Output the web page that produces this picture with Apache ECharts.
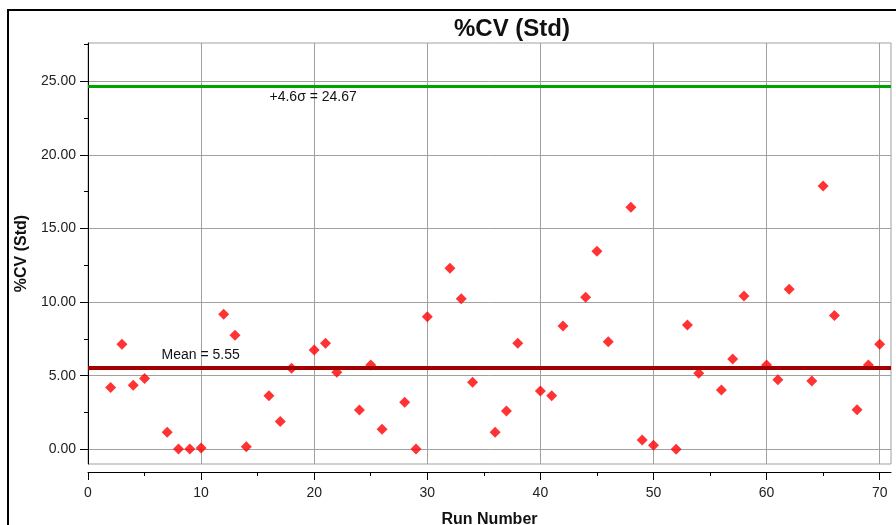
<!DOCTYPE html>
<html>
<head>
<meta charset="utf-8">
<script src="https://cdn.jsdelivr.net/npm/echarts@6/dist/echarts.min.js"></script>
<style>html,body{margin:0;padding:0;background:#fff;}#c{width:896px;height:525px;}</style>
</head>
<body>
<div id="c"></div>
<script>
const runs = [2,3,4,5,7,8,9,10,12,13,14,16,17,18,20,21,22,24,25,26,28,29,30,32,33,34,36,37,38,40,41,42,44,45,46,48,49,50,52,53,54,56,57,58,60,61,62,64,65,66,68,69,70];
const cvValues = [4.19,7.13,4.35,4.80,1.15,0.02,0.02,0.09,9.17,7.74,0.18,3.64,1.88,5.51,6.75,7.20,5.23,2.67,5.73,1.36,3.19,0.02,9.01,12.30,10.23,4.55,1.15,2.60,7.20,3.96,3.64,8.38,10.33,13.45,7.31,16.44,0.63,0.27,0.00,8.44,5.16,4.03,6.13,10.41,5.73,4.73,10.87,4.64,17.89,9.08,2.69,5.73,7.13];
const xTickValues = [0,10,20,30,40,50,60,70];
const xMinorTickValues = [5,15,25,35,45,55,65];
const yTickValues = [0,5,10,15,20,25];
const yMinorTickValues = [2.5,7.5,12.5,17.5,22.5,27.5];
const refLineValues = [24.67, 5.55];
const refLineLabels = ['+4.6σ = 24.67', 'Mean = 5.55'];

const FONT = 'Liberation Sans, Arial, sans-serif';
const chart = echarts.init(document.getElementById('c'), null, {renderer: 'canvas'});
const points = runs.map((r, i) => [r, cvValues[i]]);

const option = {
  animation: false,
  backgroundColor: '#fff',
  graphic: [
    {type: 'rect', shape: {x: 8, y: 10, width: 1000, height: 1000}, style: {fill: 'none', stroke: '#000', lineWidth: 2}, z: 100},
    {type: 'text', x: 512, y: 29, style: {text: '%CV (Std)', font: 'bold 24px ' + FONT, fill: '#111', align: 'center', verticalAlign: 'middle'}}
  ],
  grid: {left: 88, top: 43, right: 5, bottom: 61, show: true, borderColor: '#a0a0a0', borderWidth: 1, outerBoundsMode: 'none', containLabel: false},
  xAxis: [
    {
      type: 'value', min: 0, max: 71, position: 'bottom', offset: 8,
      name: 'Run Number', nameLocation: 'middle', nameGap: 40,
      nameTextStyle: {fontFamily: FONT, fontWeight: 'bold', fontSize: 16, color: '#111'},
      axisLine: {show: true, onZero: false, lineStyle: {color: '#000', width: 1}},
      axisTick: {show: true, length: 8, customValues: xTickValues, lineStyle: {color: '#000'}},
      axisLabel: {customValues: xTickValues, fontFamily: FONT, fontSize: 14, color: '#222', margin: 14},
      splitLine: {show: true, lineStyle: {color: '#a0a0a0', width: 1}}
    },
    {
      type: 'value', min: 0, max: 71, position: 'bottom', offset: 8,
      axisLine: {show: false, onZero: false},
      axisTick: {show: true, length: 4, customValues: xMinorTickValues, lineStyle: {color: '#000'}},
      axisLabel: {show: false},
      splitLine: {show: false}
    }
  ],
  yAxis: [
    {
      type: 'value', min: -1, max: 27.6, position: 'left',
      name: '%CV (Std)', nameLocation: 'middle', nameGap: 58, nameRotate: 90,
      nameTextStyle: {fontFamily: FONT, fontWeight: 'bold', fontSize: 16, color: '#111'},
      axisLine: {show: true, onZero: false, lineStyle: {color: '#000', width: 1}},
      axisTick: {show: true, length: 8, customValues: yTickValues, lineStyle: {color: '#000'}},
      axisLabel: {customValues: yTickValues, formatter: v => v.toFixed(2), fontFamily: FONT, fontSize: 14, color: '#222', margin: 12},
      splitLine: {show: true, lineStyle: {color: '#a0a0a0', width: 1}}
    },
    {
      type: 'value', min: -1, max: 27.6, position: 'left',
      axisLine: {show: false, onZero: false},
      axisTick: {show: true, length: 4, customValues: yMinorTickValues, lineStyle: {color: '#000'}},
      axisLabel: {show: false},
      splitLine: {show: false}
    }
  ],
  series: [
    {
      type: 'line', data: [], z: 1, silent: true,
      markLine: {
        silent: true, symbol: 'none', animation: false,
        label: {show: false},
        data: [
          {yAxis: refLineValues[0], lineStyle: {color: '#00a400', width: 3, type: 'solid'}},
          {yAxis: refLineValues[1], lineStyle: {color: '#a00000', width: 4, type: 'solid'}}
        ]
      },
      markPoint: {
        silent: true, symbol: 'circle', symbolSize: 0,
        data: [
          {coord: [16.05, refLineValues[0]], label: {show: true, formatter: refLineLabels[0], position: 'inside', align: 'left', verticalAlign: 'top', offset: [0, 4], fontFamily: FONT, fontSize: 14, color: '#111'}},
          {coord: [6.5, refLineValues[1]], label: {show: true, formatter: refLineLabels[1], position: 'inside', align: 'left', verticalAlign: 'bottom', offset: [0, -5], fontFamily: FONT, fontSize: 14, color: '#111'}}
        ]
      }
    },
    {
      type: 'scatter', z: 3, data: points,
      symbol: 'diamond', symbolSize: 11,
      itemStyle: {color: '#ff0000'}
    }
  ]
};
chart.setOption(option);
</script>
</body>
</html>
